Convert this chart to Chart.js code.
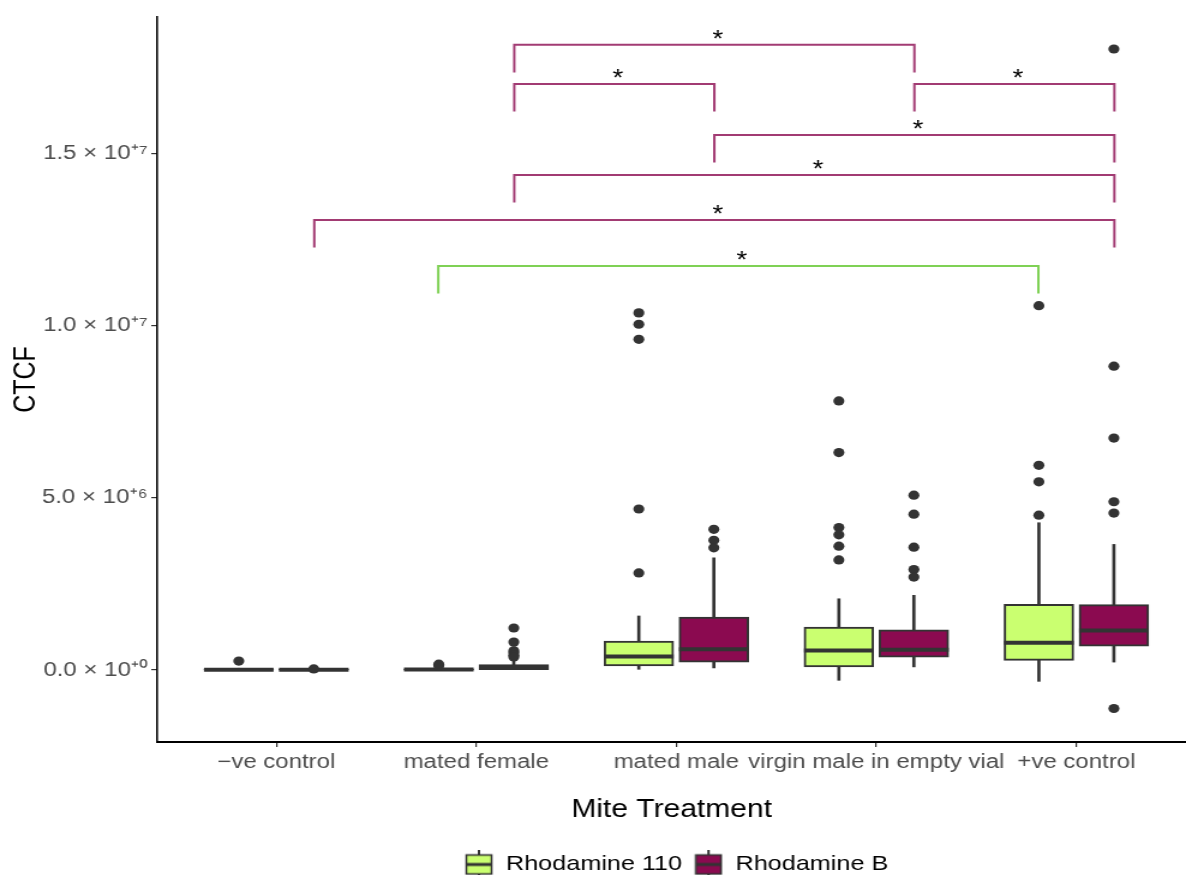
<!DOCTYPE html>
<html><head><meta charset="utf-8">
<script src="https://cdn.jsdelivr.net/npm/chart.js@4.4.1/dist/chart.umd.min.js"></script>
<style>
html,body{margin:0;padding:0;background:#fff;overflow:hidden;}
#wrap{position:absolute;left:0;top:0;width:988px;height:875px;transform:scaleX(1.2004);transform-origin:0 0;}
</style></head><body>
<div id="wrap"><canvas id="c"></canvas></div>
<script>
// ---------- data ----------
const categories = ['\u2212ve control', 'mated female', 'mated male', 'virgin male in empty vial', '+ve control'];
const seriesNames = ['Rhodamine 110', 'Rhodamine B'];

// Rhodamine 110
const whiskerLow110  = [0,      0,      0.02e6, -0.30e6, -0.33e6];
const q1_110         = [0.005e6,0.005e6,0.12e6, 0.09e6,  0.28e6];
const median110      = [0.01e6, 0.015e6,0.39e6, 0.57e6,  0.79e6];
const q3_110         = [0.02e6, 0.03e6, 0.84e6, 1.25e6,  1.91e6];
const whiskerHigh110 = [0.05e6, 0.07e6, 1.57e6, 2.07e6,  4.28e6];
const outliers110 = [
  [0.26e6],
  [0.12e6, 0.17e6],
  [10.38e6, 10.05e6, 9.61e6, 4.68e6, 2.82e6],
  [7.82e6, 6.32e6, 4.14e6, 3.93e6, 3.60e6, 3.20e6],
  [10.59e6, 5.95e6, 5.47e6, 4.50e6]
];

// Rhodamine B
const whiskerLowB  = [0,      0,      0.06e6, 0.09e6, 0.23e6];
const q1_B         = [0.005e6,0.01e6, 0.23e6, 0.37e6, 0.69e6];
const medianB      = [0.01e6, 0.06e6, 0.60e6, 0.59e6, 1.15e6];
const q3_B         = [0.02e6, 0.16e6, 1.54e6, 1.17e6, 1.90e6];
const whiskerHighB = [0.04e6, 0.30e6, 3.26e6, 2.17e6, 3.65e6];
const outliersB = [
  [0.03e6],
  [1.22e6, 0.81e6, 0.56e6, 0.50e6, 0.43e6, 0.38e6],
  [4.09e6, 3.77e6, 3.55e6],
  [5.08e6, 4.53e6, 3.57e6, 2.92e6, 2.70e6],
  [18.05e6, 8.83e6, 6.74e6, 4.89e6, 4.56e6, -1.12e6]
];

// significance comparisons (category index, series index), bracket height
const bracketStartCat    = [1, 1, 3, 2, 1, 0, 1];
const bracketEndCat      = [3, 2, 4, 4, 4, 4, 4];
const bracketSeries      = [1, 1, 1, 1, 1, 1, 0];
const bracketTop         = [18.17e6, 17.03e6, 17.03e6, 15.55e6, 14.39e6, 13.08e6, 11.74e6];
const bracketLabels      = ['*', '*', '*', '*', '*', '*', '*'];
const bracketTip         = 0.8e6;

const yTicks = [0, 5e6, 1e7, 1.5e7];

// ---------- styling ----------
const FONT = "'Liberation Sans', Arial, Helvetica, sans-serif";
Chart.defaults.font.family = FONT;
const fills = ['#CAFF70', '#8B0A50'];
const bracketColors = ['#7FD155', '#A23B73'];
const dark = '#333333';
const dodge = [-0.1875, 0.1875];
const bracketDodge = [-0.19, 0.19];

const xp = (i, s) => i + 1 + dodge[s];

const stats = [
  {lo: whiskerLow110, q1: q1_110, med: median110, q3: q3_110, hi: whiskerHigh110, out: outliers110},
  {lo: whiskerLowB, q1: q1_B, med: medianB, q3: q3_B, hi: whiskerHighB, out: outliersB}
];

const datasets = [];
stats.forEach((st, s) => {
  datasets.push({
    type: 'bar', label: 'whisker' + s, order: 6,
    data: categories.map((c, i) => ({x: xp(i, s), y: [st.lo[i], st.hi[i]]})),
    backgroundColor: dark, borderWidth: 0, grouped: false,
    barThickness: 2, maxBarThickness: 2
  });
  datasets.push({
    type: 'bar', label: seriesNames[s], order: 4,
    data: categories.map((c, i) => ({x: xp(i, s), y: [st.q1[i], st.q3[i]]})),
    backgroundColor: fills[s], borderColor: dark, borderWidth: 2, borderSkipped: false,
    grouped: false, barThickness: 58, maxBarThickness: 58
  });
  datasets.push({
    type: 'scatter', label: 'median' + s, order: 3,
    data: categories.map((c, i) => ({x: xp(i, s), y: st.med[i]})),
    pointStyle: 'line', pointRadius: 29, pointHoverRadius: 29,
    pointBorderWidth: 4, pointBorderColor: dark, borderColor: dark, showLine: false
  });
  const pts = [];
  st.out.forEach((arr, i) => arr.forEach(v => pts.push({x: xp(i, s), y: v})));
  datasets.push({
    type: 'scatter', label: 'outlier' + s, order: 2,
    data: pts, pointRadius: 4.6, pointHoverRadius: 4.6,
    pointBackgroundColor: dark, pointBorderWidth: 0, showLine: false
  });
});

bracketTop.forEach((top, k) => {
  const s = bracketSeries[k];
  const x1 = bracketStartCat[k] + 1 + bracketDodge[s];
  const x2 = bracketEndCat[k] + 1 + bracketDodge[s];
  datasets.push({
    type: 'line', label: 'bracket' + k, order: 1,
    data: [{x: x1, y: top - bracketTip}, {x: x1, y: top}, {x: x2, y: top}, {x: x2, y: top - bracketTip}],
    borderColor: bracketColors[s], borderWidth: 2, pointRadius: 0, pointHoverRadius: 0,
    fill: false, tension: 0, borderJoinStyle: 'miter', borderCapStyle: 'butt'
  });
});

// legend glyph (boxplot key)
function keyGlyph(fill) {
  const c = document.createElement('canvas');
  c.width = 24; c.height = 30;
  const g = c.getContext('2d');
  g.fillStyle = dark;
  g.fillRect(11, 0, 2, 30);
  g.fillStyle = fill;
  g.fillRect(1, 5, 22, 20);
  g.strokeStyle = dark; g.lineWidth = 1.6;
  g.strokeRect(1.5, 5.5, 21, 19);
  g.fillStyle = dark;
  g.fillRect(1, 13.5, 22, 3);
  return c;
}
const glyphs = fills.map(keyGlyph);

function supNum(str) {
  const map = {'0':'\u2070','1':'\u00B9','2':'\u00B2','3':'\u00B3','4':'\u2074','5':'\u2075','6':'\u2076','7':'\u2077','8':'\u2078','9':'\u2079','+':'\u207A','-':'\u207B'};
  return str.split('').map(ch => map[ch] || ch).join('');
}
function sciLabel(v) {
  if (v === 0) return '0.0 \u00D7 10' + supNum('+0');
  const e = Math.floor(Math.log10(Math.abs(v)));
  const m = (v / Math.pow(10, e)).toFixed(1);
  return m + ' \u00D7 10' + supNum((e >= 0 ? '+' : '-') + Math.abs(e));
}

const sigStars = {
  id: 'sigStars',
  afterDatasetsDraw(chart) {
    const {ctx, scales: {x, y}} = chart;
    ctx.save();
    ctx.font = "23px " + FONT;
    ctx.fillStyle = '#000';
    ctx.textAlign = 'center';
    ctx.textBaseline = 'alphabetic';
    bracketTop.forEach((top, k) => {
      const s = bracketSeries[k];
      const mid = (bracketStartCat[k] + bracketEndCat[k]) / 2 + 1 + bracketDodge[s];
      ctx.fillText(bracketLabels[k], x.getPixelForValue(mid) + 3, y.getPixelForValue(top) + 2);
    });
    ctx.restore();
  }
};

const legendShift = {
  id: 'legendShift',
  afterLayout(chart) {
    const lg = chart.legend;
    if (!lg) return;
    const w = lg.right - lg.left;
    lg.left = 377; lg.right = 377 + w;
  }
};

const noPad = sc => { sc.paddingLeft = 0; sc.paddingRight = 0; sc.paddingTop = 0; sc.paddingBottom = 0; };

new Chart(document.getElementById('c'), {
  type: 'bar',
  data: {datasets},
  plugins: [sigStars, legendShift],
  options: {
    responsive: true, maintainAspectRatio: false, animation: false,
    layout: {autoPadding: false, padding: {top: 17, right: 0, bottom: -10, left: 0}},
    plugins: {
      tooltip: {enabled: false},
      legend: {
        display: true, position: 'bottom', align: 'start',
        labels: {
          usePointStyle: true, pointStyleWidth: 24, padding: 10,
          color: '#000', font: {size: 21},
          generateLabels: () => seriesNames.map((n, s) => ({
            text: n, pointStyle: glyphs[s], fillStyle: fills[s], strokeStyle: dark,
            lineWidth: 0, hidden: false, datasetIndex: 1 + s * 4
          }))
        }
      }
    },
    scales: {
      x: {
        type: 'linear', min: 0.405, max: 5.548, offset: false,
        afterBuildTicks: sc => { sc.ticks = categories.map((c, i) => ({value: i + 1})); },
        afterFit: sc => { sc.height = 102; noPad(sc); },
        ticks: {
          autoSkip: false, maxRotation: 0, padding: 3, color: '#4D4D4D', font: {size: 20},
          callback: v => categories[Math.round(v) - 1]
        },
        grid: {display: true, offset: false, drawOnChartArea: false, drawTicks: true, tickLength: 5, color: dark, lineWidth: 1.2},
        border: {display: true, color: '#000', width: 2},
        title: {display: true, text: 'Mite Treatment', color: '#000', font: {size: 25}, padding: {top: 0, bottom: 19}}
      },
      y: {
        type: 'linear', min: -2.093e6, max: 18.98e6,
        afterBuildTicks: sc => { sc.ticks = yTicks.map(v => ({value: v})); },
        afterFit: sc => { sc.width = 131; noPad(sc); },
        ticks: {padding: 3, color: '#4D4D4D', font: {size: 20}, callback: v => sciLabel(v)},
        grid: {display: true, offset: false, drawOnChartArea: false, drawTicks: true, tickLength: 5, color: dark, lineWidth: 1.2},
        border: {display: true, color: '#000', width: 1.6},
        title: {display: true, text: 'CTCF', color: '#000', font: {size: 25}, padding: {top: 7, bottom: 0}}
      }
    }
  }
});
</script>
</body></html>
